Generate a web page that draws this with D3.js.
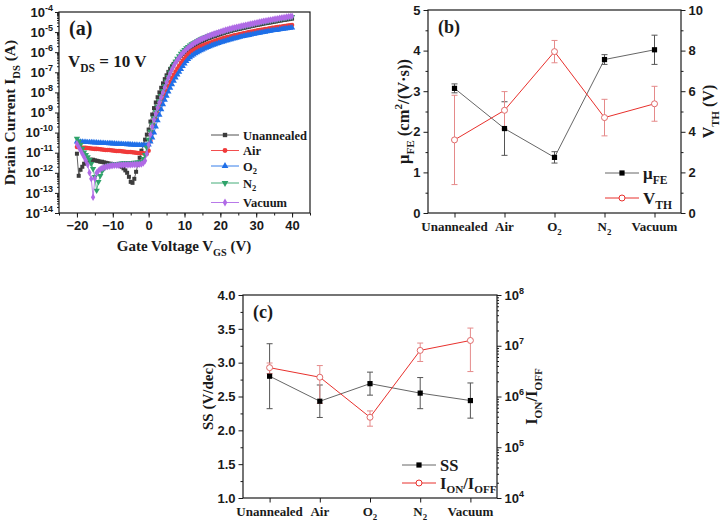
<!DOCTYPE html>
<html>
<head>
<meta charset="utf-8">
<script src="https://cdnjs.cloudflare.com/ajax/libs/d3/7.8.5/d3.min.js"></script>
<style>
body{margin:0;background:#fff}
svg{font-family:"Liberation Serif","Times New Roman",serif;font-weight:bold}
</style>
</head>
<body>
<svg id="chart" width="725" height="525"></svg>
<script>
// ---- (a) transfer curves: log10(I_DS / A), V_GS swept -20..40 V in 0.5 V steps
const gateVoltage = d3.range(-20, 40.25, 0.5)

const logIdsUnannealed = [
  -11.05, -12.15, -11.85, -11.7, -11.55, -11.45, -11.4, -11.35, -11.35, -11.35,
  -11.38, -11.4, -11.42, -11.45, -11.45, -11.48, -11.5, -11.52, -11.55, -11.55,
  -11.57, -11.58, -11.6, -11.62, -11.65, -11.7, -11.78, -11.88, -12.0, -12.2,
  -12.45, -12.5, -12.3, -11.95, -11.6, -11.25, -10.9, -10.6, -10.35, -10.1,
  -9.85, -9.45, -9.1, -8.78, -8.5, -8.24, -8.0, -7.77, -7.55, -7.34,
  -7.15, -6.98, -6.83, -6.7, -6.58, -6.47, -6.37, -6.27, -6.18, -6.09,
  -6.0, -5.93, -5.86, -5.8, -5.74, -5.68, -5.63, -5.58, -5.53, -5.48,
  -5.44, -5.4, -5.36, -5.32, -5.29, -5.25, -5.22, -5.19, -5.16, -5.13,
  -5.1, -5.07, -5.04, -5.01, -4.99, -4.96, -4.94, -4.91, -4.89, -4.87,
  -4.85, -4.83, -4.81, -4.79, -4.77, -4.75, -4.73, -4.71, -4.69, -4.67,
  -4.65, -4.63, -4.62, -4.6, -4.58, -4.56, -4.55, -4.53, -4.52, -4.5,
  -4.48, -4.47, -4.45, -4.43, -4.42, -4.4, -4.39, -4.37, -4.36, -4.34,
  -4.33
]
const logIdsAir = [
  -10.72, -10.73, -10.74, -10.75, -10.76, -10.76, -10.77, -10.78, -10.79, -10.8,
  -10.81, -10.81, -10.82, -10.83, -10.84, -10.85, -10.86, -10.86, -10.87, -10.88,
  -10.89, -10.9, -10.91, -10.91, -10.92, -10.93, -10.94, -10.95, -10.96, -10.96,
  -10.97, -10.98, -10.99, -11.0, -11.01, -11.01, -11.02, -11.03, -11.04, -11.05,
  -10.9, -10.4, -10.0, -9.65, -9.35, -9.08, -8.83, -8.58, -8.35, -8.12,
  -7.9, -7.68, -7.48, -7.29, -7.12, -6.96, -6.81, -6.67, -6.54, -6.42,
  -6.31, -6.2, -6.1, -6.01, -5.95, -5.9, -5.85, -5.8, -5.76, -5.72,
  -5.68, -5.64, -5.6, -5.57, -5.54, -5.5, -5.47, -5.44, -5.41, -5.38,
  -5.35, -5.32, -5.3, -5.27, -5.25, -5.23, -5.21, -5.18, -5.16, -5.14,
  -5.12, -5.1, -5.08, -5.06, -5.04, -5.02, -5.0, -4.98, -4.97, -4.95,
  -4.93, -4.91, -4.9, -4.88, -4.87, -4.85, -4.84, -4.82, -4.81, -4.79,
  -4.78, -4.76, -4.75, -4.74, -4.73, -4.71, -4.7, -4.68, -4.67, -4.66,
  -4.65
]
const logIdsO2 = [
  -10.45, -10.45, -10.46, -10.46, -10.47, -10.47, -10.48, -10.48, -10.49, -10.49,
  -10.5, -10.5, -10.51, -10.51, -10.52, -10.52, -10.53, -10.53, -10.54, -10.54,
  -10.55, -10.55, -10.56, -10.56, -10.57, -10.57, -10.58, -10.58, -10.59, -10.59,
  -10.6, -10.6, -10.61, -10.61, -10.62, -10.62, -10.63, -10.63, -10.64, -10.64,
  -10.6, -10.45, -10.25, -10.0, -9.7, -9.4, -9.12, -8.85, -8.6, -8.38,
  -8.17, -7.97, -7.78, -7.6, -7.43, -7.27, -7.12, -6.98, -6.84, -6.7,
  -6.57, -6.45, -6.35, -6.26, -6.18, -6.12, -6.06, -6.01, -5.96, -5.91,
  -5.87, -5.83, -5.79, -5.75, -5.71, -5.67, -5.64, -5.61, -5.58, -5.55,
  -5.52, -5.49, -5.46, -5.43, -5.41, -5.38, -5.36, -5.33, -5.31, -5.29,
  -5.27, -5.24, -5.22, -5.2, -5.18, -5.16, -5.15, -5.13, -5.11, -5.09,
  -5.07, -5.05, -5.04, -5.02, -5.01, -4.99, -4.97, -4.96, -4.94, -4.92,
  -4.91, -4.9, -4.89, -4.87, -4.86, -4.84, -4.83, -4.82, -4.81, -4.79,
  -4.78
]
const logIdsN2 = [
  -10.3, -10.45, -10.6, -10.8, -10.98, -11.1, -11.22, -11.35, -11.55, -11.8,
  -12.2, -12.88, -12.45, -12.15, -11.92, -11.78, -11.7, -11.65, -11.62, -11.6,
  -11.58, -11.57, -11.56, -11.55, -11.54, -11.53, -11.52, -11.52, -11.51, -11.5,
  -11.5, -11.5, -11.49, -11.49, -11.48, -11.47, -11.45, -11.3, -11.1, -10.75,
  -10.35, -9.95, -9.6, -9.28, -8.98, -8.7, -8.43, -8.17, -7.92, -7.68,
  -7.45, -7.22, -7.0, -6.8, -6.62, -6.46, -6.32, -6.19, -6.07, -5.97,
  -5.88, -5.8, -5.73, -5.66, -5.6, -5.54, -5.49, -5.44, -5.39, -5.35,
  -5.31, -5.27, -5.24, -5.2, -5.17, -5.14, -5.11, -5.08, -5.05, -5.02,
  -5.0, -4.97, -4.95, -4.92, -4.9, -4.87, -4.85, -4.82, -4.8, -4.78,
  -4.76, -4.74, -4.72, -4.7, -4.68, -4.66, -4.64, -4.62, -4.6, -4.58,
  -4.56, -4.54, -4.53, -4.51, -4.49, -4.47, -4.46, -4.44, -4.43, -4.41,
  -4.39, -4.38, -4.36, -4.34, -4.33, -4.31, -4.3, -4.28, -4.27, -4.25,
  -4.24
]
const logIdsVacuum = [
  -10.55, -10.72, -10.88, -11.05, -11.22, -11.4, -11.6, -12.0, -12.3, -13.22,
  -12.3, -12.0, -11.9, -11.82, -11.77, -11.74, -11.71, -11.69, -11.67, -11.65,
  -11.64, -11.63, -11.62, -11.62, -11.61, -11.61, -11.6, -11.6, -11.6, -11.6,
  -11.6, -11.59, -11.59, -11.59, -11.58, -11.58, -11.56, -11.52, -11.4, -11.05,
  -10.6, -10.1, -9.7, -9.35, -9.05, -8.76, -8.5, -8.24, -8.0, -7.75,
  -7.5, -7.27, -7.05, -6.86, -6.69, -6.53, -6.39, -6.26, -6.14, -6.04,
  -5.95, -5.86, -5.78, -5.71, -5.64, -5.58, -5.52, -5.47, -5.42, -5.37,
  -5.33, -5.29, -5.25, -5.21, -5.18, -5.14, -5.11, -5.08, -5.05, -5.02,
  -4.99, -4.96, -4.93, -4.9, -4.88, -4.85, -4.83, -4.8, -4.78, -4.76,
  -4.74, -4.72, -4.7, -4.68, -4.66, -4.64, -4.62, -4.6, -4.58, -4.56,
  -4.54, -4.52, -4.5, -4.48, -4.46, -4.45, -4.43, -4.41, -4.4, -4.38,
  -4.36, -4.35, -4.33, -4.31, -4.3, -4.28, -4.27, -4.25, -4.24, -4.22,
  -4.21
]

// ---- (b), (c) per-sample parameters
const samples = ["Unannealed", "Air", "O2", "N2", "Vacuum"]
const sampleLabels = [["Unannealed"], ["Air"], ["O", ["2", "sub"]], ["N", ["2", "sub"]], ["Vacuum"]]

const mobility = [3.07, 2.08, 1.37, 3.78, 4.02]
const mobilityErr = [0.11, 0.66, 0.14, 0.12, 0.36]
const vth = [3.6, 5.06, 7.95, 4.7, 5.38]
const vthErr = [2.2, 0.92, 0.55, 0.9, 0.86]

const ss = [2.80, 2.43, 2.69, 2.55, 2.44]
const ssErr = [0.48, 0.24, 0.17, 0.23, 0.26]
const onOff = [3.7e6, 2.4e6, 3.9e5, 8.1e6, 1.27e7]
const onOffErr = [0.87e6, 1.67e6, 1.3e5, 3.2e6, 9.6e6]

const svg = d3.select("#chart")
const ink = "#1a1a1a"

// text with sub/superscripts: parts are "txt" or ["txt","sub"|"sup"]
function rich(sel, parts, size){
    let shift = 0
    parts.forEach(p => {
        const [t, kind] = Array.isArray(p) ? p : [p, null]
        const target = kind === "sub" ? size*0.3 : kind === "sup" ? -size*0.4 : 0
        sel.append("tspan").text(t)
            .attr("font-size", kind ? size*0.68 : size)
            .attr("dy", target - shift)
        shift = target
    })
    return sel
}

function styleTicks(g){
    g.select(".domain").remove()
    g.selectAll(".tick line").attr("stroke", ink).attr("stroke-width", 1)
    g.selectAll(".tick text").attr("fill", ink).attr("font-size", 13).attr("font-weight", "bold")
}

function frame(box){
    svg.append("rect").attr("x", box.left).attr("y", box.top)
        .attr("width", box.right - box.left).attr("height", box.bottom - box.top)
        .attr("fill", "none").attr("stroke", ink).attr("stroke-width", 1.2)
}

function powLabels(g, anchor){
    g.selectAll(".tick text").text(null).attr("text-anchor", anchor).each(function(d){
        const t = d3.select(this)
        t.append("tspan").text("10")
        t.append("tspan").attr("dy", -6).attr("font-size", 9).text(Math.round(Math.log10(d)))
    })
}

function minorLog(lo, hi){
    const out = []
    for (let e = lo; e < hi; e++) for (let m = 2; m < 10; m++) out.push(m * Math.pow(10, e))
    return out
}

// ================= (a) =================
const A = {left: 59, right: 310, top: 12, bottom: 213}
const xA = d3.scaleLinear().domain([-25, 45]).range([A.left, A.right])
const yA = d3.scaleLog().domain([1e-14, 1e-4]).range([A.bottom, A.top])

svg.append("g").attr("transform", `translate(0,${A.bottom})`)
    .call(d3.axisBottom(xA).tickValues(d3.range(-25, 46, 5)).tickSize(2.5).tickFormat(""))
    .call(styleTicks)
svg.append("g").attr("transform", `translate(0,${A.bottom})`)
    .call(d3.axisBottom(xA).tickValues([-20, -10, 0, 10, 20, 30, 40]).tickSize(4.5).tickPadding(3))
    .call(styleTicks)
svg.append("g").attr("transform", `translate(${A.left},0)`)
    .call(d3.axisLeft(yA).tickValues(minorLog(-14, -4)).tickSize(2).tickFormat(""))
    .call(styleTicks)
svg.append("g").attr("transform", `translate(${A.left},0)`)
    .call(d3.axisLeft(yA).tickValues(d3.range(-14, -3).map(e => Math.pow(10, e))).tickSize(4).tickPadding(2))
    .call(styleTicks)
    .call(g => powLabels(g, "end"))
frame(A)

const seriesA = [
    {label: ["Unannealed"], values: logIdsUnannealed, color: "#3c3c3c", symbol: d3.symbolSquare, size: 16, rot: 0},
    {label: ["Air"], values: logIdsAir, color: "#f03a3a", symbol: d3.symbolCircle, size: 16, rot: 0},
    {label: ["O", ["2", "sub"]], values: logIdsO2, color: "#1f6fe8", symbol: d3.symbolTriangle, size: 17, rot: 0},
    {label: ["N", ["2", "sub"]], values: logIdsN2, color: "#2fa36a", symbol: d3.symbolTriangle, size: 17, rot: 180},
    {label: ["Vacuum"], values: logIdsVacuum, color: "#b06ae6", symbol: d3.symbolDiamond, size: 16, rot: 0}
]

seriesA.forEach(s => {
    const pts = gateVoltage.map((v, i) => [v, Math.pow(10, s.values[i])])
    svg.append("path").datum(pts)
        .attr("d", d3.line().x(d => xA(d[0])).y(d => yA(d[1])))
        .attr("fill", "none").attr("stroke", s.color).attr("stroke-width", 0.8)
    svg.append("g").selectAll("path").data(pts).join("path")
        .attr("transform", d => `translate(${xA(d[0])},${yA(d[1])}) rotate(${s.rot})`)
        .attr("d", d3.symbol(s.symbol, s.size))
        .attr("fill", s.color)
})

// legend (a)
const legRowsA = [135, 150.5, 166, 183, 202.5]
seriesA.forEach((s, i) => {
    const y = legRowsA[i]
    svg.append("line").attr("x1", 211).attr("x2", 239).attr("y1", y).attr("y2", y)
        .attr("stroke", s.color).attr("stroke-width", 0.9)
    svg.append("path").attr("transform", `translate(225,${y}) rotate(${s.rot})`)
        .attr("d", d3.symbol(s.symbol, s.size + 3)).attr("fill", s.color)
    rich(svg.append("text").attr("x", 243).attr("y", y + 4.5).attr("fill", ink), s.label, 12.5)
})

svg.append("text").attr("x", 69).attr("y", 35).attr("font-size", 20).attr("fill", ink).text("(a)")
rich(svg.append("text").attr("x", 68).attr("y", 67).attr("fill", ink), ["V", ["DS", "sub"], " = 10 V"], 17)
rich(svg.append("text").attr("text-anchor", "middle").attr("x", 184).attr("y", 251).attr("fill", ink),
    ["Gate Voltage V", ["GS", "sub"], " (V)"], 15)
rich(svg.append("text").attr("text-anchor", "middle")
    .attr("transform", `translate(15,${(A.top + A.bottom)/2}) rotate(-90)`).attr("fill", ink),
    ["Drain Current I", ["DS", "sub"], " (A)"], 15.5)

// helper for category panels
function categoryAxis(x, box){
    svg.append("g").attr("transform", `translate(0,${box.bottom})`)
        .call(d3.axisBottom(x).tickSize(4.5).tickFormat(""))
        .call(styleTicks)
    samples.forEach((s, i) => {
        rich(svg.append("text").attr("text-anchor", "middle").attr("x", x(s)).attr("y", box.bottom + 18)
            .attr("fill", ink), sampleLabels[i], 13)
    })
}

function errorBars(x, y, vals, errs, color){
    const g = svg.append("g").attr("stroke", color).attr("stroke-width", 1)
    samples.forEach((s, i) => {
        const cx = x(s), y0 = y(vals[i] - errs[i]), y1 = y(vals[i] + errs[i])
        g.append("line").attr("x1", cx).attr("x2", cx).attr("y1", y0).attr("y2", y1)
        g.append("line").attr("x1", cx - 3).attr("x2", cx + 3).attr("y1", y0).attr("y2", y0)
        g.append("line").attr("x1", cx - 3).attr("x2", cx + 3).attr("y1", y1).attr("y2", y1)
    })
}

function seriesLine(x, y, vals, color){
    svg.append("path").datum(vals)
        .attr("d", d3.line().x((d, i) => x(samples[i])).y(d => y(d)))
        .attr("fill", "none").attr("stroke", color).attr("stroke-width", 1)
}

function squares(x, y, vals){
    svg.append("g").selectAll("rect").data(vals).join("rect")
        .attr("x", (d, i) => x(samples[i]) - 2.6).attr("y", d => y(d) - 2.6)
        .attr("width", 5.2).attr("height", 5.2).attr("fill", "#000")
}

function circles(x, y, vals, color){
    svg.append("g").selectAll("circle").data(vals).join("circle")
        .attr("cx", (d, i) => x(samples[i])).attr("cy", d => y(d)).attr("r", 3)
        .attr("fill", "#fff").attr("stroke", color).attr("stroke-width", 1)
}

function legendRow(x0, y, kind, color, label, size){
    svg.append("line").attr("x1", x0).attr("x2", x0 + 34).attr("y1", y).attr("y2", y)
        .attr("stroke", color).attr("stroke-width", 1)
    if (kind === "square")
        svg.append("rect").attr("x", x0 + 17 - 2.6).attr("y", y - 2.6).attr("width", 5.2).attr("height", 5.2).attr("fill", "#000")
    else
        svg.append("circle").attr("cx", x0 + 17).attr("cy", y).attr("r", 3).attr("fill", "#fff").attr("stroke", color)
    rich(svg.append("text").attr("x", x0 + 38).attr("y", y + 5.5).attr("fill", ink), label, size)
}

// ================= (b) =================
const B = {left: 428, right: 681, top: 10, bottom: 213}
const xB = d3.scalePoint().domain(samples).range([B.left, B.right]).padding(0.53)
const yB = d3.scaleLinear().domain([0, 5]).range([B.bottom, B.top])
const yB2 = d3.scaleLinear().domain([0, 10]).range([B.bottom, B.top])

svg.append("g").attr("transform", `translate(${B.left},0)`)
    .call(d3.axisLeft(yB).tickValues(d3.range(0.5, 5, 1)).tickSize(2.5).tickFormat(""))
    .call(styleTicks)
svg.append("g").attr("transform", `translate(${B.left},0)`)
    .call(d3.axisLeft(yB).ticks(5).tickSize(4.5).tickPadding(3))
    .call(styleTicks)
svg.append("g").attr("transform", `translate(${B.right},0)`)
    .call(d3.axisRight(yB2).tickValues(d3.range(1, 10, 2)).tickSize(2.5).tickFormat(""))
    .call(styleTicks)
svg.append("g").attr("transform", `translate(${B.right},0)`)
    .call(d3.axisRight(yB2).tickValues(d3.range(0, 11, 2)).tickSize(4.5).tickPadding(3))
    .call(styleTicks)
frame(B)
categoryAxis(xB, B)

errorBars(xB, yB, mobility, mobilityErr, "#555")
errorBars(xB, yB2, vth, vthErr, "#e58a8a")
seriesLine(xB, yB, mobility, "#666")
seriesLine(xB, yB2, vth, "#e8302c")
squares(xB, yB, mobility)
circles(xB, yB2, vth, "#e06a6a")

legendRow(605, 173, "square", "#666", ["\u03bc", ["FE", "sub"]], 17)
legendRow(605, 198, "circle", "#e8302c", ["V", ["TH", "sub"]], 17)

svg.append("text").attr("x", 438).attr("y", 33).attr("font-size", 18).attr("fill", ink).text("(b)")
rich(svg.append("text").attr("text-anchor", "middle")
    .attr("transform", `translate(409,${(B.top + B.bottom)/2}) rotate(-90)`).attr("fill", ink),
    ["\u03bc", ["FE", "sub"], " (cm", ["2", "sup"], "/(V\u00b7s))"], 16.5)
rich(svg.append("text").attr("text-anchor", "middle")
    .attr("transform", `translate(714,${(B.top + B.bottom)/2}) rotate(-90)`).attr("fill", ink),
    ["V", ["TH", "sub"], " (V)"], 16)

// ================= (c) =================
const C = {left: 243, right: 497, top: 295, bottom: 498}
const xC = d3.scalePoint().domain(samples).range([C.left, C.right]).padding(0.53)
const yC = d3.scaleLinear().domain([1, 4]).range([C.bottom, C.top])
const yC2 = d3.scaleLog().domain([1e4, 1e8]).range([C.bottom, C.top])

svg.append("g").attr("transform", `translate(${C.left},0)`)
    .call(d3.axisLeft(yC).tickValues(d3.range(1.25, 4, 0.5)).tickSize(2.5).tickFormat(""))
    .call(styleTicks)
svg.append("g").attr("transform", `translate(${C.left},0)`)
    .call(d3.axisLeft(yC).tickValues(d3.range(1, 4.01, 0.5)).tickSize(4.5).tickPadding(3).tickFormat(d3.format(".1f")))
    .call(styleTicks)
svg.append("g").attr("transform", `translate(${C.right},0)`)
    .call(d3.axisRight(yC2).tickValues(minorLog(4, 8)).tickSize(2).tickFormat(""))
    .call(styleTicks)
svg.append("g").attr("transform", `translate(${C.right},0)`)
    .call(d3.axisRight(yC2).tickValues([1e4, 1e5, 1e6, 1e7, 1e8]).tickSize(4.5).tickPadding(3))
    .call(styleTicks)
    .call(g => powLabels(g, "start"))
frame(C)
categoryAxis(xC, C)

errorBars(xC, yC, ss, ssErr, "#555")
errorBars(xC, yC2, onOff, onOffErr, "#e58a8a")
seriesLine(xC, yC, ss, "#666")
seriesLine(xC, yC2, onOff, "#e8302c")
squares(xC, yC, ss)
circles(xC, yC2, onOff, "#e06a6a")

legendRow(402, 465, "square", "#666", ["SS"], 16.5)
legendRow(402, 483, "circle", "#e8302c", ["I", ["ON", "sub"], "/I", ["OFF", "sub"]], 16.5)

svg.append("text").attr("x", 253).attr("y", 318).attr("font-size", 18).attr("fill", ink).text("(c)")
rich(svg.append("text").attr("text-anchor", "middle")
    .attr("transform", `translate(213,${(C.top + C.bottom)/2}) rotate(-90)`).attr("fill", ink),
    ["SS (V/dec)"], 15)
rich(svg.append("text").attr("text-anchor", "middle")
    .attr("transform", `translate(537,${(C.top + C.bottom)/2}) rotate(-90)`).attr("fill", ink),
    ["I", ["ON", "sub"], "/I", ["OFF", "sub"]], 16.5)
</script>
</body>
</html>
